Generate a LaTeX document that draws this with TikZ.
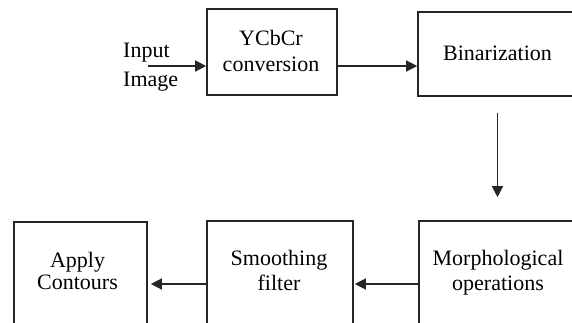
\documentclass[tikz,border=0pt]{standalone}
\usepackage{fontspec}
\setmainfont{Liberation Serif}
\usetikzlibrary{arrows.meta}
\tikzset{
  stage/.style={draw=black!85, line width=1.6pt, rectangle, inner sep=0pt},
  caption/.style={inner sep=0pt, anchor=north, align=center},
  flow/.style={draw=black!85, line width=1.3pt,
               -{Triangle[length=11pt,width=11pt]}},
  lbl/.style={inner sep=0pt, align=left, anchor=north west}
}
\begin{document}
\begin{tikzpicture}[x=1pt,y=-1pt]
  \useasboundingbox (0,0) rectangle (572,322);
  \clip (0,0) rectangle (572,322);

  % processing stages (the lower row runs past the bottom edge)
  \node[stage, minimum width=130pt, minimum height=86pt] (yc) at (272,52) {};
  \node[stage, minimum width=159pt, minimum height=84pt] (bin) at (497.5,54) {};
  \node[stage, minimum width=159pt, minimum height=106pt] (morph) at (498.5,274) {};
  \node[stage, minimum width=146pt, minimum height=106pt] (smooth) at (280,274) {};
  \node[stage, minimum width=133pt, minimum height=106pt] (apply) at (80.5,275) {};

  % stage captions
  \node[caption, font=\fontsize{22}{26}\selectfont] (yctext) at (271,30) {YCbCr\\conversion};
  \node[caption, font=\fontsize{22}{26}\selectfont] (bintext) at (497.5,46) {Binarization};
  \node[caption, font=\fontsize{22}{25}\selectfont] (morphtext) at (498,250) {Morphological\\operations};
  \node[caption, font=\fontsize{22}{25}\selectfont] (smoothtext) at (279,250) {Smoothing\\filter};
  \node[caption, font=\fontsize{22}{22}\selectfont] (applytext) at (77.5,252) {Apply\\Contours};

  % input label
  \node[lbl, font=\fontsize{22}{29}\selectfont] (input) at (123,43) {Input\\Image};

  % connector levels
  \coordinate (top) at (0,66);
  \coordinate (bot) at (0,284);
  \coordinate (instart) at (148,66);

  \draw[flow] (instart) -- (yc.west |- top);
  \draw[flow] (yc.east |- top) -- (bin.west |- top);
  \draw[flow, shorten <=16pt, shorten >=23pt] (bin.south) -- (bin.south |- morph.north);
  \draw[flow, shorten >=1pt] (morph.west |- bot) -- (smooth.east |- bot);
  \draw[flow, shorten >=3pt] (smooth.west |- bot) -- (apply.east |- bot);
\end{tikzpicture}
\end{document}
